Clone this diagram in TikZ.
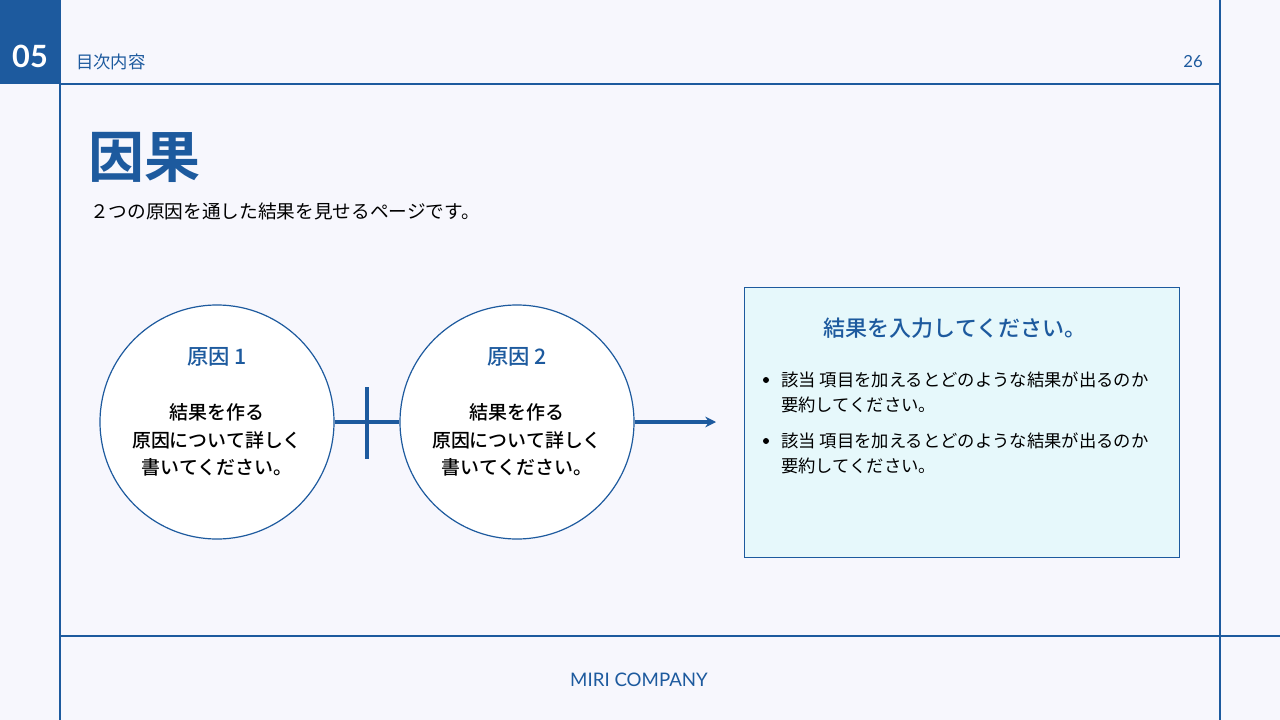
\documentclass[tikz,border=0pt]{standalone}
\usepackage{fontspec}
\setmainfont{Noto Sans CJK JP}
\newfontfamily\lat{Lato}
\newfontfamily\cjkb{Noto Sans CJK JP Bold}
\newfontfamily\cjkm{Noto Sans CJK JP Medium}
\usetikzlibrary{arrows.meta}
\definecolor{mblue}{HTML}{1D5A9E}
\definecolor{bg}{HTML}{F7F7FD}
\definecolor{boxfill}{HTML}{E6F8FB}
\tikzset{circ/.style={circle,draw=mblue,line width=0.9pt,fill=white,minimum size=175.5pt,inner sep=0pt},
 conn/.style={draw=mblue,line width=2.4pt},
 fr/.style={draw=mblue,line width=0.9pt},
 body/.style={font=\cjkm\fontsize{14.2pt}{20.5pt}\selectfont,align=center},
 bul/.style={font=\fontsize{13pt}{14pt}\selectfont,anchor=west,inner sep=0pt}}
\begin{document}
\begin{tikzpicture}[x=0.75pt,y=-0.75pt]
\useasboundingbox (0,0) rectangle (1280,720);
\fill[bg] (0,0) rectangle (1280,720);
\fill[mblue] (0,0) rectangle (60,84);
\node[white,font=\lat\bfseries\fontsize{23pt}{23pt}\selectfont] (num) at (30,56) {05};
\draw[fr] (60,0) -- (60,720);
\draw[fr] (1220,0) -- (1220,720);
\draw[fr] (60,84) -- (1220,84);
\draw[fr] (60,636) -- (1280,636);
\node[mblue,anchor=west,inner sep=0pt,font=\fontsize{13pt}{13pt}\selectfont] (toc) at (76,62) {目次内容};
\node[mblue,inner sep=0pt,font=\lat\fontsize{12.5pt}{12.5pt}\selectfont] (pg) at (1193,62) {26};
\node[mblue,anchor=west,inner sep=0pt,font=\cjkb\fontsize{42pt}{42pt}\selectfont] (title) at (88,157) {因果};
\node[anchor=west,inner sep=0pt,font=\fontsize{14pt}{14pt}\selectfont] (sub) at (90,211) {２つの原因を通した結果を見せるページです。};
\node[circ] (c1) at (217,422) {};
\node[circ] (c2) at (517,422) {};
\node[mblue,font=\cjkm\fontsize{16pt}{16pt}\selectfont] (l1) at (217,357) {原因 1};
\node[mblue,font=\cjkm\fontsize{16pt}{16pt}\selectfont] (l2) at (517,357) {原因 2};
\node[body] (b1) at (217,440) {結果を作る\\原因について詳しく\\書いてください。};
\node[body] (b2) at (517,440) {結果を作る\\原因について詳しく\\書いてください。};
\coordinate (vt) at (367,387); \coordinate (vb) at (367,459);
\draw[conn] (c1.east) -- (c2.west);
\draw[conn] (vt) -- (vb);
\coordinate (ae) at (716,422);
\draw[conn,-{Stealth[length=8pt,width=8pt]}] (c2.east) -- (ae);
\node[fr,fill=boxfill,minimum width=326pt,minimum height=202.5pt,anchor=north west] (box) at (744,287) {};
\node[mblue,font=\cjkm\fontsize{16.5pt}{16.5pt}\selectfont] (bt) at (955,328) {結果を入力してください。};
\foreach \y in {380,441}{
 \fill (766,\y) circle (3);
 \node[bul] at (781,\y) {該当 項目を加えるとどのような結果が出るのか};
 \node[bul] at (781,\y+25) {要約してください。};
}
\node[mblue,font=\lat\fontsize{14pt}{14pt}\selectfont] (co) at (639,680) {MIRI COMPANY};
\end{tikzpicture}
\end{document}
